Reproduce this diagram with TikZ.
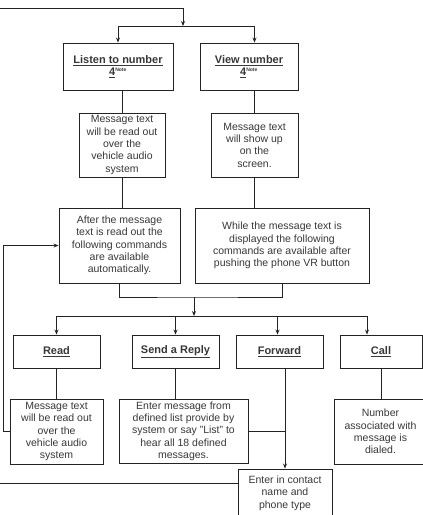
\documentclass[tikz,border=0pt]{standalone}
\usepackage{fontspec}
\setmainfont{Liberation Sans}
\usetikzlibrary{arrows.meta,positioning,calc}
\definecolor{ink}{RGB}{35,35,35}
\definecolor{txt}{RGB}{55,55,55}
\tikzset{
  >={Stealth[length=5pt,width=4pt]},
  box/.style={draw=ink,line width=0.9pt,align=center,inner sep=2pt,
    font=\fontsize{10.5}{12.3}\selectfont,text=txt},
  head/.style={box,font=\fontsize{11}{12.5}\selectfont\bfseries},
  link/.style={draw=ink,line width=0.9pt},
}
\begin{document}
\begin{tikzpicture}[x=1pt,y=-1pt]
  \useasboundingbox (0,0) rectangle (423,515);
  % upper part
  \node[head,minimum width=110pt,minimum height=47pt] (listen) at (118,66.5) {\underline{Listen to number}\\\underline{4}\textsuperscript{\tiny Note}};
  \node[head,minimum width=98pt,minimum height=47pt] (view) at (249,66.5) {\underline{View number}\\\underline{4}\textsuperscript{\tiny Note}};
  \node[box,minimum width=86pt,minimum height=64pt] (readout) at (122,145) {Message text\\will be read out\\over the\\vehicle audio\\system};
  \node[box,minimum width=87pt,minimum height=64pt] (showmsg) at (254.5,145) {Message text\\will show up\\on the\\screen.};
  \node[box,minimum width=121pt,minimum height=75pt] (after) at (119.5,245.5) {After the message\\text is read out the\\following commands\\are available\\automatically.};
  \node[box,minimum width=174pt,minimum height=75pt] (while) at (282,245.5) {While the message text is\\displayed the following\\commands are available after\\pushing the phone VR button};
  % commands
  \node[head,minimum width=87pt,minimum height=33pt] (read) at (56.5,351.5) {\underline{Read}};
  \node[head,minimum width=87pt,minimum height=33pt] (reply) at (175.5,351.5) {\underline{Send a Reply}};
  \node[head,minimum width=87pt,minimum height=33pt] (forward) at (279.5,351.5) {\underline{Forward}};
  \node[head,minimum width=82pt,minimum height=33pt] (call) at (381,351.5) {\underline{Call}};
  \node[box,minimum width=93pt,minimum height=65pt] (readmsg) at (56.5,431.5) {Message text\\will be read out\\over the\\vehicle audio\\system};
  \node[box,minimum width=129pt,minimum height=64pt] (enter) at (183.5,431) {Enter message from\\defined list provide by\\system or say "List" to\\hear all 18 defined\\messages.};
  \node[box,minimum width=92pt,minimum height=65pt] (number) at (380.5,431.5) {Number\\associated with\\message is\\dialed.};
  \node[box,minimum width=94pt,minimum height=48pt] (contact) at (285,493) {Enter in contact\\name and\\phone type};
  % connectors
  \coordinate (in) at (0,8);
  \coordinate (split) at (183,26);
  \coordinate (merge) at (194,297);
  \coordinate (bus) at (194,316);
  \coordinate (loop) at (3,0);
  \coordinate (edge) at (0,0);
  \coordinate (fwdin) at ([xshift=-2pt]forward.north);
  \coordinate (callin) at ([xshift=-14pt]call.north);
  \coordinate (contactin) at ([yshift=10pt]contact.west);
  \draw[link,->] (in) -| (split);
  \draw[link,->] (split) -| (listen.north);
  \draw[link,->] (split) -| (view.north -| showmsg.north);
  \draw[link] (listen.south -| readout.north) -- (readout.north);
  \draw[link] (view.south -| showmsg.north) -- (showmsg.north);
  \draw[link] (readout.south) -- (readout.south |- after.north);
  \draw[link] (showmsg.south) -- (showmsg.south |- while.north);
  \draw[link] (after.south) |- (merge) -| (while.south);
  \draw[link,->] (merge) -- (bus);
  \draw[link] (read.north |- bus) -- (callin |- bus);
  \foreach \n in {read,reply,fwdin,callin}
    \draw[link,->] (\n |- bus) -- (\n);
  \draw[link] (read.south) -- (read.south |- readmsg.north);
  \draw[link] (reply.south) -- (reply.south |- enter.north);
  \draw[link,->] (forward.south -| contact.north) -- (contact.north);
  \draw[link] (enter.east) -- (enter.east -| contact.north);
  \draw[link] (call.south) -- (call.south |- number.north);
  \draw[link,->] (readmsg.west) -- (readmsg.west -| loop) |- (after.west);
  \draw[link] (contactin) -- (contactin -| edge);
\end{tikzpicture}
\end{document}
